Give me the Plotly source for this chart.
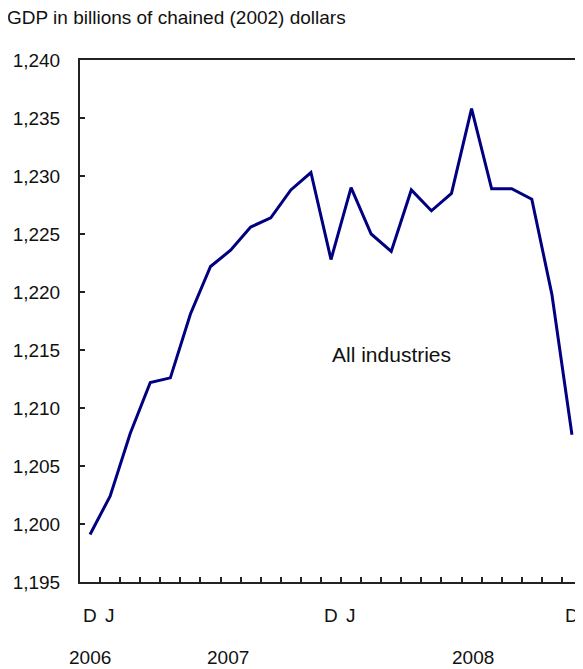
import plotly.graph_objects as go

months = ["Dec 2006", "Jan 2007", "Feb 2007", "Mar 2007", "Apr 2007", "May 2007",
          "Jun 2007", "Jul 2007", "Aug 2007", "Sep 2007", "Oct 2007", "Nov 2007",
          "Dec 2007", "Jan 2008", "Feb 2008", "Mar 2008", "Apr 2008", "May 2008",
          "Jun 2008", "Jul 2008", "Aug 2008", "Sep 2008", "Oct 2008", "Nov 2008",
          "Dec 2008"]
gdp = [1199.1, 1202.4, 1207.8, 1212.2, 1212.6, 1218.1, 1222.2, 1223.6, 1225.6,
       1226.4, 1228.8, 1230.3, 1222.8, 1229.0, 1225.0, 1223.5, 1228.8, 1227.0,
       1228.5, 1235.8, 1228.9, 1228.9, 1228.0, 1219.8, 1207.7]
y_ticks = [1195, 1200, 1205, 1210, 1215, 1220, 1225, 1230, 1235, 1240]
y_tick_text = ["1,195", "1,200", "1,205", "1,210", "1,215", "1,220", "1,225",
               "1,230", "1,235", "1,240"]
month_marks = [("Dec 2006", "D"), ("Jan 2007", "J"), ("Dec 2007", "D"),
               ("Jan 2008", "J"), ("Dec 2008", "D")]
year_marks = [("Dec 2006", "2006", 0), ("Jul 2007", "2007", -3), ("Jul 2008", "2008", 1)]

FONT = "Liberation Sans, Arial, sans-serif"
FS = 19

fig = go.Figure()
fig.add_trace(go.Scatter(x=months, y=gdp, mode="lines",
                         line=dict(color="#000080", width=3), showlegend=False))

annotations = [
    dict(text="GDP in billions of chained (2002) dollars", xref="paper", yref="paper",
         x=-75 / 502, y=1 + 42 / 522, xanchor="left", yanchor="middle",
         showarrow=False, font=dict(family=FONT, size=FS, color="#111")),
    dict(text="All industries", xref="paper", yref="y", x=0.6215, y=1214.6,
         xanchor="center", yanchor="middle", showarrow=False,
         font=dict(family=FONT, size=21, color="#111")),
]
for cat, lab in month_marks:
    annotations.append(dict(text=lab, xref="x", yref="paper", x=cat, y=0, yshift=-33,
                            xanchor="center", yanchor="middle", showarrow=False,
                            font=dict(family=FONT, size=FS, color="#111")))
for cat, lab, sh in year_marks:
    annotations.append(dict(text=lab, xref="x", yref="paper", x=cat, y=0, yshift=-75,
                            xshift=sh, xanchor="center", yanchor="middle", showarrow=False,
                            font=dict(family=FONT, size=FS, color="#111")))

fig.update_layout(
    width=575, height=661,
    margin=dict(l=72, r=1, t=52, b=87),
    paper_bgcolor="white", plot_bgcolor="white",
    font=dict(family=FONT, size=FS, color="#111"),
    annotations=annotations,
    shapes=[dict(type="line", xref="paper", yref="paper", x0=1, x1=1, y0=0, y1=1,
                 line=dict(color="#bbbbbb", width=1))],
    xaxis=dict(type="category", categoryorder="array", categoryarray=months,
               range=[-0.5, len(months) - 0.5], showgrid=False, zeroline=False,
               showline=True, linecolor="#222", linewidth=2, mirror=True,
               ticks="inside", tickson="boundaries", ticklen=5, tickcolor="#222",
               tickwidth=2, showticklabels=False),
    yaxis=dict(range=[1195, 1240], tickvals=y_ticks, ticktext=y_tick_text,
               showgrid=False, zeroline=False, showline=True, linecolor="#222",
               linewidth=2, ticks="inside", ticklen=5, tickcolor="#222", tickwidth=2,
               ticklabelstandoff=14, tickfont=dict(family=FONT, size=FS, color="#111")),
)
fig.write_html("out.html")
